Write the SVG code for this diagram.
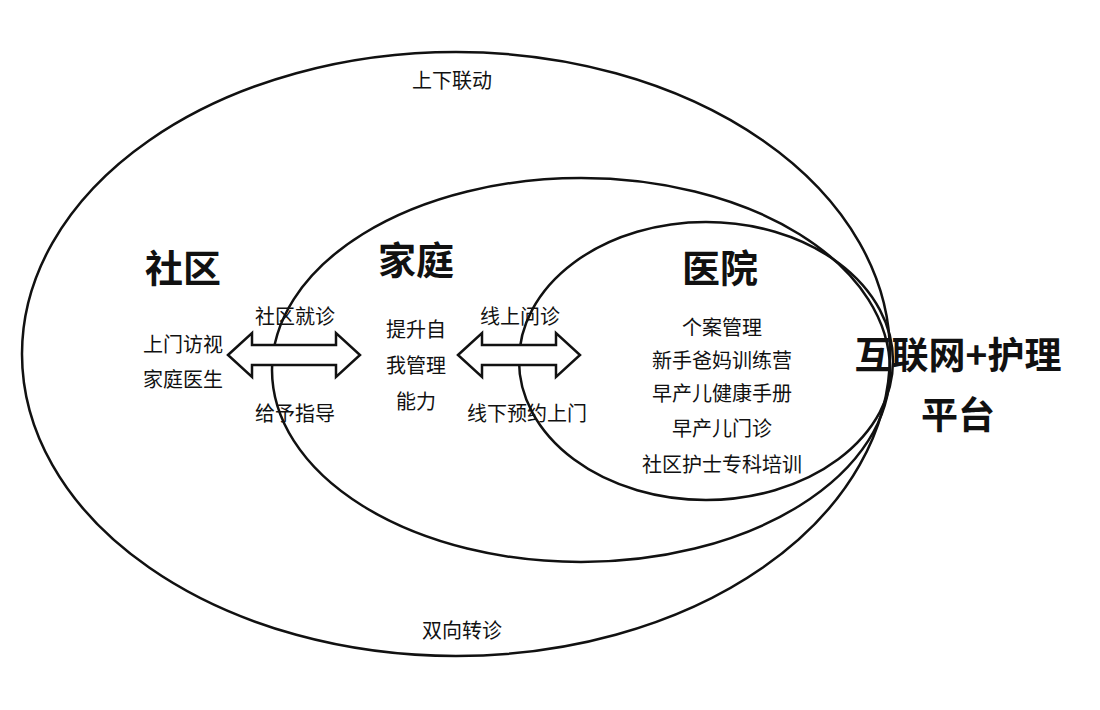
<svg xmlns="http://www.w3.org/2000/svg" width="1100" height="710" viewBox="0 0 1100 710">
<style>
.e{fill:none;stroke:#111;stroke-width:2.5}
.a{fill:#fff;stroke:#111;stroke-width:2.5;stroke-linejoin:miter}
text{font-family:"Noto Sans CJK SC","Liberation Sans",sans-serif;fill:#111;text-anchor:middle}
.s{font-size:20px}
.b{font-size:38px;font-weight:bold}
.p{font-size:37px;font-weight:bold}
</style>
<rect width="1100" height="710" fill="#fff"/>
<g id="outer"><ellipse class="e" cx="456" cy="354" rx="434" ry="302"/></g>
<g id="middle"><ellipse class="e" cx="581" cy="370" rx="309" ry="192"/></g>
<g id="inner"><ellipse class="e" cx="706" cy="361" rx="187" ry="139"/></g>
<g id="connectors">
<path class="a" d="M228,355 L252,333 L252,345 L336,345 L336,333 L360,355 L336,377 L336,365 L252,365 L252,377 Z"/>
<path class="a" d="M458,355 L482,333 L482,345 L556,345 L556,333 L580,355 L556,377 L556,365 L482,365 L482,377 Z"/>
</g>
<g id="labels">
<text class="s" x="452" y="88">上下联动</text>
<text class="s" x="462" y="638">双向转诊</text>
<text class="s" x="295" y="324">社区就诊</text>
<text class="s" x="295" y="421">给予指导</text>
<text class="s" x="520" y="324">线上问诊</text>
<text class="s" x="527" y="421">线下预约上门</text>
</g>
<g id="community">
<text class="b" x="183" y="282">社区</text>
<text class="s" x="183" y="352">上门访视</text>
<text class="s" x="183" y="387">家庭医生</text>
</g>
<g id="family">
<text class="b" x="416" y="274">家庭</text>
<text class="s" x="416" y="337">提升自</text>
<text class="s" x="416" y="373">我管理</text>
<text class="s" x="416" y="409">能力</text>
</g>
<g id="hospital">
<text class="b" x="720" y="282">医院</text>
<text class="s" x="722" y="335">个案管理</text>
<text class="s" x="722" y="368">新手爸妈训练营</text>
<text class="s" x="722" y="401">早产儿健康手册</text>
<text class="s" x="722" y="436">早产儿门诊</text>
<text class="s" x="722" y="472">社区护士专科培训</text>
</g>
<g id="platform">
<text class="p" x="958" y="369">互联网+护理</text>
<text class="p" x="958" y="429">平台</text>
</g>
</svg>
